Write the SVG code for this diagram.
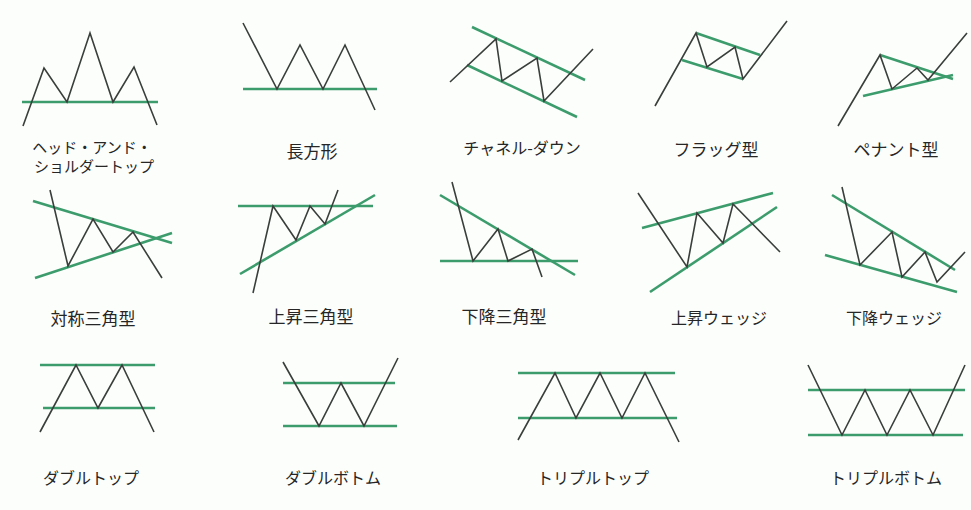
<svg xmlns="http://www.w3.org/2000/svg" width="971" height="510" viewBox="0 0 971 510">
<style>
.g{stroke:#3c9c6c;stroke-width:2.6;fill:none;stroke-linecap:butt}
.p{stroke:#3a3f3c;stroke-width:1.6;fill:none;stroke-linejoin:miter}
.t{font-family:"Noto Sans CJK JP","Noto Sans",sans-serif;font-size:16px;fill:#262626;text-anchor:middle;dominant-baseline:central}
.k{font-size:17px}
</style>
<rect width="971" height="510" fill="#fcfefc"/>
<g id="head-and-shoulders">
<line class="g" x1="22" y1="102" x2="158" y2="102"/>
<polyline class="p" points="23,126 44,68 67,102 90,33 113,102 134,67 157,125"/>
<text class="t" x="92" y="146" style="font-size:15px">ヘッド・アンド・</text>
<text class="t" x="94" y="165" style="font-size:15px">ショルダートップ</text>
</g>
<g id="rectangle">
<line class="g" x1="243" y1="89" x2="377" y2="89"/>
<polyline class="p" points="243,23 277,89 300,45 323,89 345,45 375,110"/>
<text class="t k" x="312" y="150">長方形</text>
</g>
<g id="channel-down">
<line class="g" x1="472" y1="27" x2="585" y2="80"/>
<line class="g" x1="467" y1="65" x2="577" y2="117"/>
<polyline class="p" points="450,82 496,39 502,81 537,58 544,101 593,49"/>
<text class="t" x="522" y="147">チャネル-ダウン</text>
</g>
<g id="flag">
<line class="g" x1="696" y1="33" x2="760" y2="55"/>
<line class="g" x1="682" y1="60" x2="743" y2="79"/>
<polyline class="p" points="655,106 696,33 707,67 735,47 743,79 787,21"/>
<text class="t k" x="716" y="148">フラッグ型</text>
</g>
<g id="pennant">
<line class="g" x1="880" y1="55" x2="953" y2="79"/>
<line class="g" x1="863" y1="96" x2="953" y2="75"/>
<polyline class="p" points="838,126 880,55 892,89 917,68 928,80 967,33"/>
<text class="t k" x="896" y="148">ペナント型</text>
</g>
<g id="symmetrical-triangle">
<line class="g" x1="33" y1="201" x2="172" y2="243"/>
<line class="g" x1="35" y1="278" x2="172" y2="233"/>
<polyline class="p" points="50,190 68,266 93,219 113,252 133,232 162,278"/>
<text class="t k" x="93" y="317">対称三角型</text>
</g>
<g id="ascending-triangle">
<line class="g" x1="238" y1="206" x2="373" y2="206"/>
<line class="g" x1="240" y1="274" x2="375" y2="195"/>
<polyline class="p" points="253,293 273,206 296,240 310,206 325,224 338,190"/>
<text class="t k" x="311" y="315">上昇三角型</text>
</g>
<g id="descending-triangle">
<line class="g" x1="440" y1="261" x2="578" y2="261"/>
<line class="g" x1="440" y1="195" x2="575" y2="275"/>
<polyline class="p" points="452,182 473,261 498,229 508,261 532,249 542,277"/>
<text class="t k" x="504" y="315">下降三角型</text>
</g>
<g id="rising-wedge">
<line class="g" x1="642" y1="228" x2="773" y2="193"/>
<line class="g" x1="650" y1="292" x2="777" y2="207"/>
<polyline class="p" points="638,193 687,267 697,213 723,243 733,204 780,252"/>
<text class="t" x="719" y="317">上昇ウェッジ</text>
</g>
<g id="falling-wedge">
<line class="g" x1="832" y1="195" x2="955" y2="270"/>
<line class="g" x1="825" y1="255" x2="957" y2="292"/>
<polyline class="p" points="842,187 860,265 892,232 902,277 925,252 937,282 965,252"/>
<text class="t" x="894" y="317">下降ウェッジ</text>
</g>
<g id="double-top">
<line class="g" x1="40" y1="365" x2="155" y2="365"/>
<line class="g" x1="43" y1="408" x2="155" y2="408"/>
<polyline class="p" points="40,432 76,365 98,408 122,365 154,432"/>
<text class="t" x="91" y="477">ダブルトップ</text>
</g>
<g id="double-bottom">
<line class="g" x1="283" y1="383" x2="395" y2="383"/>
<line class="g" x1="283" y1="426" x2="397" y2="426"/>
<polyline class="p" points="283,362 319,426 341,383 364,426 398,358"/>
<text class="t" x="333" y="477">ダブルボトム</text>
</g>
<g id="triple-top">
<line class="g" x1="518" y1="373" x2="675" y2="373"/>
<line class="g" x1="518" y1="418" x2="677" y2="418"/>
<polyline class="p" points="518,440 555,373 576,418 600,373 622,418 645,373 679,442"/>
<text class="t" x="593" y="477">トリプルトップ</text>
</g>
<g id="triple-bottom">
<line class="g" x1="808" y1="390" x2="965" y2="390"/>
<line class="g" x1="808" y1="435" x2="963" y2="435"/>
<polyline class="p" points="808,365 842,435 865,390 887,435 910,390 933,435 965,365"/>
<text class="t" x="886" y="477">トリプルボトム</text>
</g>
</svg>
